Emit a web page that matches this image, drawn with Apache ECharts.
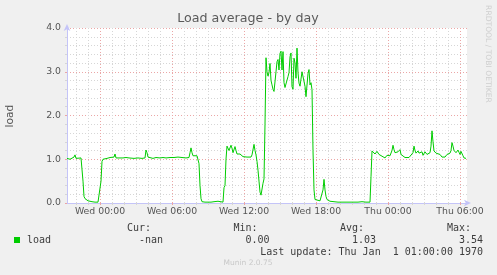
<!DOCTYPE html>
<html><head><meta charset="utf-8">
<script src="https://cdn.jsdelivr.net/npm/echarts@6/dist/echarts.min.js"></script>
<style>html,body{margin:0;padding:0;background:#f0f0f0;}#c{width:497px;height:275px;}</style>
</head><body><div id="c"></div>
<script>
// ---- data ----
const chartTitle = 'Load average - by day';
const yAxisName = 'load';
const yTickValues = [0, 1, 2, 3, 4];
const startTime = Date.UTC(2024, 0, 2, 21, 15); // Tue 21:15
const slotMinutes = 5;
const slotCount = 400;
const dayNames = ['Sun', 'Mon', 'Tue', 'Wed', 'Thu', 'Fri', 'Sat'];
// [5-minute slot index from start, load]
const loadSamples = [
  [0,1.02],[3,1.0],[5,1.02],[7,1.05],[8,1.1],[9,1.02],[11,1.03],[14,1.03],[15,1.0],[16,0.5],
  [17,0.15],[18,0.1],[20,0.08],[21,0.05],[23,0.06],[25,0.03],[28,0.02],[31,0.02],[33,0.03],[34,0.5],
  [35,0.95],[36,1.0],[38,1.03],[40,1.02],[43,1.04],[45,1.03],[47,1.05],[48,1.12],[49,1.03],[51,1.05],
  [53,1.03],[55,1.07],[56,1.03],[59,1.04],[61,1.06],[62,1.03],[67,1.02],[71,1.03],[75,1.02],[78,1.03],
  [79,1.21],[80,1.15],[81,1.05],[83,1.03],[86,1.02],[89,1.04],[91,1.02],[93,1.03],[96,1.04],[99,1.03],
  [103,1.04],[107,1.04],[111,1.05],[115,1.04],[119,1.03],[122,1.04],[123,1.15],[124,1.26],[125,1.15],[126,1.08],
  [128,1.05],[130,1.08],[131,1.05],[132,0.9],[133,0.4],[134,0.1],[135,0.03],[138,0.02],[141,0.02],[143,0.06],
  [144,0.02],[147,0.03],[149,0.02],[151,0.04],[153,0.02],[156,0.02],[157,0.35],[158,0.4],[159,1.0],[160,1.3],
  [162,1.2],[164,1.32],[165,1.25],[166,1.15],[168,1.29],[169,1.2],[170,1.12],[171,1.1],[172,1.16],[173,1.12],
  [175,1.13],[176,1.06],[178,1.1],[180,1.05],[182,1.08],[184,1.05],[185,1.1],[187,1.34],[188,1.2],[189,1.1],
  [190,0.95],[191,0.75],[192,0.5],[193,0.25],[194,0.18],[195,0.2],[196,0.45],[197,0.55],[198,1.8],[199,3.32],
  [200,3.0],[201,2.9],[202,2.98],[203,3.19],[204,2.8],[205,2.7],[206,2.6],[207,2.55],[208,2.51],[209,3.0],
  [210,3.23],[211,3.28],[212,3.04],[213,3.42],[214,3.47],[215,3.04],[216,3.46],[217,2.75],[218,2.64],[219,2.62],
  [220,2.67],[221,2.89],[222,2.98],[223,3.34],[224,3.43],[225,2.66],[226,2.6],[227,3.31],[228,3.2],[229,2.85],
  [230,3.54],[231,2.98],[232,2.74],[233,2.67],[234,2.71],[235,3.0],[236,2.98],[237,2.96],[238,2.67],[239,2.43],
  [240,2.41],[241,2.96],[242,3.05],[243,2.7],[244,2.75],[245,2.59],[246,1.2],[247,0.3],[248,0.08],[250,0.05],
  [253,0.05],[255,0.06],[256,0.3],[257,0.54],[258,0.3],[259,0.15],[260,0.08],[262,0.06],[263,0.04],[265,0.07],
  [267,0.03],[269,0.05],[271,0.02],[273,0.04],[275,0.02],[277,0.03],[279,0.02],[281,0.04],[283,0.02],[285,0.03],
  [287,0.02],[289,0.05],[291,0.02],[293,0.04],[295,0.03],[297,0.05],[299,0.02],[301,0.03],[303,0.02],[304,0.6],
  [305,1.19],[306,1.15],[307,1.21],[308,1.12],[309,1.1],[310,1.18],[311,1.14],[312,1.11],[313,1.1],[314,1.13],
  [315,1.07],[316,1.06],[317,1.04],[318,1.03],[319,1.07],[320,1.09],[321,1.07],[323,1.08],[325,1.2],[326,1.32],
  [327,1.22],[328,1.15],[329,1.14],[330,1.12],[331,1.17],[332,1.18],[333,1.22],[334,1.11],[335,1.09],[336,1.07],
  [338,1.04],[340,1.03],[342,1.04],[344,1.06],[346,1.15],[347,1.3],[348,1.2],[349,1.14],[350,1.12],[351,1.19],
  [352,1.14],[353,1.11],[354,1.15],[355,1.17],[356,1.09],[357,1.12],[358,1.17],[359,1.13],[360,1.11],[361,1.09],
  [362,1.13],[363,1.15],[364,1.3],[365,1.65],[366,1.4],[367,1.19],[368,1.15],[369,1.14],[371,1.12],[373,1.11],
  [374,1.08],[375,1.05],[376,1.03],[377,1.03],[378,1.05],[379,1.08],[380,1.11],[381,1.1],[383,1.14],[384,1.2],
  [385,1.38],[386,1.3],[387,1.2],[388,1.21],[389,1.15],[390,1.11],[391,1.21],[392,1.16],[393,1.11],[394,1.18],
  [395,1.22],[396,1.08],[397,1.03],[398,1.03],[399,1.02]
];
const seriesName = 'load';
const legendHeaders = ['Cur:', 'Min:', 'Avg:', 'Max:'];
const legendValues = ['-nan', '0.00', '1.03', '3.54'];
const lastUpdate = 'Last update: Thu Jan  1 01:00:00 1970';
const footerText = 'Munin 2.0.75';
const watermarkText = 'RRDTOOL / TOBI OETIKER';

// ---- chart ----
const MIN = 60000;
const pad = n => (n < 10 ? '0' : '') + n;
const slotTimes = Array.from({ length: slotCount + 1 }, (_, i) => startTime + i * slotMinutes * MIN);
const categories = slotTimes.map(t => { const d = new Date(t); return dayNames[d.getUTCDay()] + ' ' + pad(d.getUTCHours()) + ':' + pad(d.getUTCMinutes()); });
const isHour = i => new Date(slotTimes[i]).getUTCMinutes() === 0;
const isSixHour = i => isHour(i) && new Date(slotTimes[i]).getUTCHours() % 6 === 0;
const seriesData = loadSamples.map(s => [s[0], s[1]]);

const SANS = '"DejaVu Sans"';
const MONO = '"DejaVu Sans Mono"';
const axisBlue = '#c4c4f8';
const redGrid = '#eba6a6';
const grayGrid = '#d6d6d6';
const txt = '#555555';
const legendTxt = '#3c3c3c';

const chart = echarts.init(document.getElementById('c'), null, { renderer: 'canvas' });
const colX = [127, 233.5, 340, 447];
const valRight = [163, 269.5, 376, 483];
const graphics = [
  { type: 'text', style: { text: chartTitle, x: 248, y: 19, fill: '#5a5a5a', font: '12.67px ' + SANS, textAlign: 'center', textVerticalAlign: 'middle' } },
  { type: 'text', x: 10, y: 116, rotation: Math.PI / 2, style: { text: yAxisName, x: 0, y: 0, fill: txt, font: '10.67px ' + SANS, textAlign: 'center', textVerticalAlign: 'middle' } },
  { type: 'rect', shape: { x: 14, y: 237, width: 6, height: 6 }, style: { fill: '#00cc00' } },
  { type: 'text', style: { text: seriesName, x: 27, y: 240, fill: legendTxt, font: '10px ' + MONO, textAlign: 'left', textVerticalAlign: 'middle' } },
  { type: 'text', style: { text: lastUpdate, x: 483, y: 252, fill: legendTxt, font: '10px ' + MONO, textAlign: 'right', textVerticalAlign: 'middle' } },
  { type: 'text', style: { text: footerText, x: 248, y: 263.5, fill: '#c8c8c8', font: '7.5px ' + SANS, textAlign: 'center', textVerticalAlign: 'middle' } },
  { type: 'text', x: 487.5, y: 54, rotation: -Math.PI / 2, style: { text: watermarkText, x: 0, y: 0, fill: '#cfcfcf', font: '7.6px ' + SANS, textAlign: 'center', textVerticalAlign: 'middle' } }
];
legendHeaders.forEach((h, i) => graphics.push({ type: 'text', style: { text: h, x: colX[i], y: 228, fill: legendTxt, font: '10px ' + MONO, textAlign: 'left', textVerticalAlign: 'middle' } }));
legendValues.forEach((v, i) => graphics.push({ type: 'text', style: { text: v, x: valRight[i], y: 240, fill: legendTxt, font: '10px ' + MONO, textAlign: 'right', textVerticalAlign: 'middle' } }));

chart.setOption({
  animation: false,
  backgroundColor: '#f0f0f0',
  grid: { left: 67, top: 28, width: 400, height: 175, show: true, backgroundColor: '#ffffff', borderWidth: 0 },
  xAxis: [
    {
      type: 'category', position: 'bottom', boundaryGap: false, data: categories,
      axisLine: { show: false }, axisLabel: { show: false },
      axisTick: { show: true, length: 2, interval: (i) => isHour(i), lineStyle: { color: grayGrid } },
      splitLine: { show: true, interval: (i) => isHour(i) && !isSixHour(i), lineStyle: { color: grayGrid, type: [1, 2], width: 1 } }
    },
    {
      type: 'category', position: 'bottom', boundaryGap: false, data: categories,
      axisLine: { show: true, onZero: false, lineStyle: { color: axisBlue }, symbol: ['none', 'arrow'], symbolSize: [5, 7], symbolOffset: [0, 4] },
      axisTick: { show: true, length: 2, interval: (i) => isSixHour(i), lineStyle: { color: redGrid } },
      axisLabel: { show: true, interval: (i) => isSixHour(i), color: txt, fontSize: 9.33, fontFamily: 'DejaVu Sans', margin: 4 },
      splitLine: { show: true, interval: (i) => isSixHour(i), lineStyle: { color: redGrid, type: [1, 2], width: 1 } }
    }
  ],
  yAxis: {
    type: 'value', min: 0, max: 4, interval: 1,
    axisLine: { show: true, lineStyle: { color: axisBlue }, symbol: ['none', 'arrow'], symbolSize: [5, 7], symbolOffset: [0, 4] },
    axisTick: { show: true, length: 2, lineStyle: { color: redGrid } },
    minorTick: { show: true, splitNumber: 5, length: 2, lineStyle: { color: grayGrid } },
    axisLabel: { formatter: v => yTickValues.includes(v) ? v.toFixed(1) : '', color: txt, fontSize: 9.33, fontFamily: 'DejaVu Sans', margin: 6 },
    splitLine: { show: true, lineStyle: { color: redGrid, type: [1, 2], width: 1 } },
    minorSplitLine: { show: true, lineStyle: { color: grayGrid, type: [1, 2], width: 1 } }
  },
  series: [{
    name: seriesName, type: 'line', xAxisIndex: 1, data: seriesData,
    showSymbol: false, symbol: 'none', smooth: false,
    lineStyle: { color: '#00cc00', width: 1 }, z: 5
  }],
  graphic: graphics
});
</script></body></html>
